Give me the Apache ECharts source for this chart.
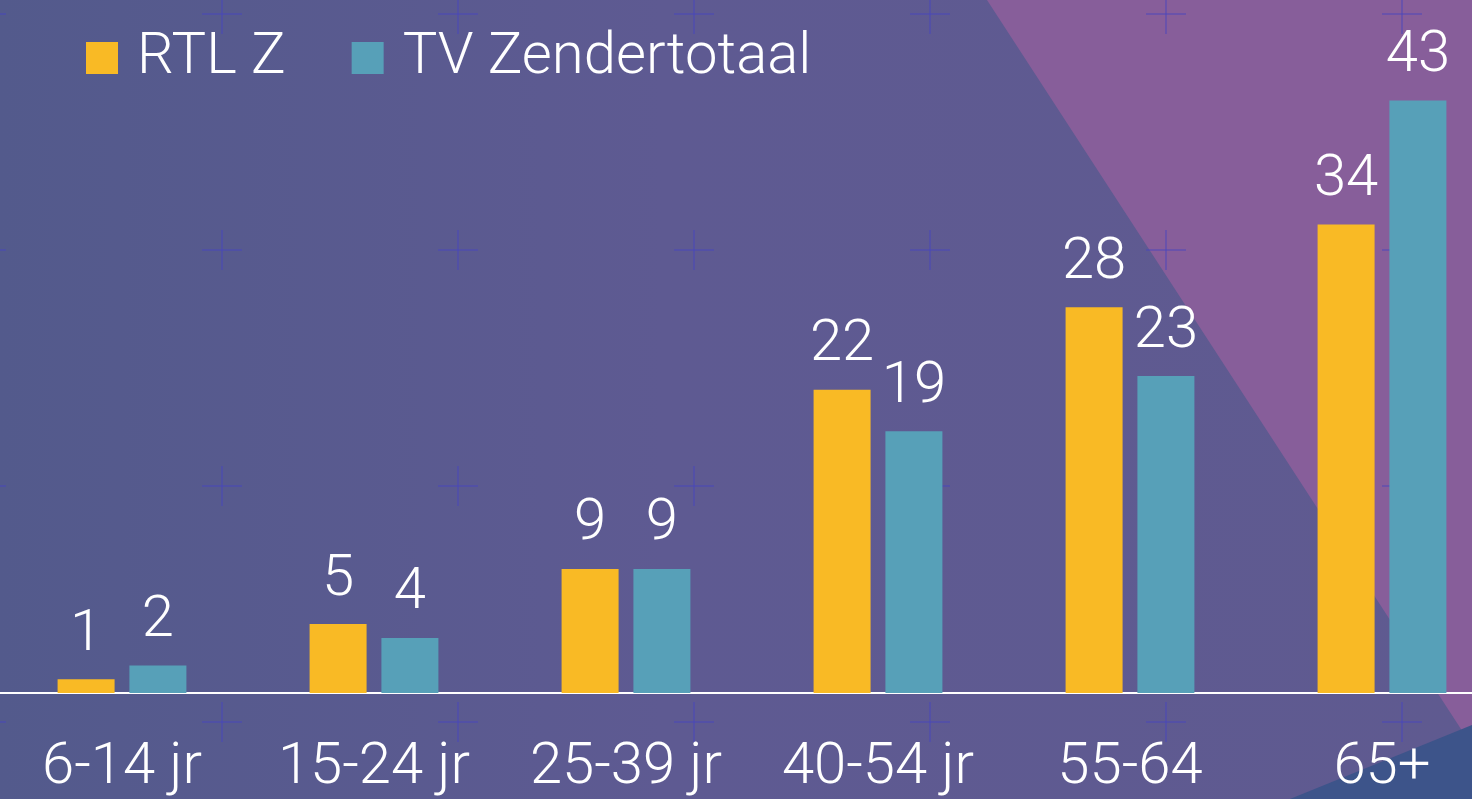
<!DOCTYPE html>
<html lang="nl">
<head>
    <meta charset="UTF-8">
    <title>RTL Z vs TV Zendertotaal</title>
    <script src="https://cdn.jsdelivr.net/npm/echarts@6/dist/echarts.min.js"></script>
    <style>
        html, body { margin: 0; padding: 0; }
        #chart { width: 1472px; height: 799px; }
    </style>
</head>
<body>
    <div id="chart"></div>
    <script>
        // data
        const categories = ['6-14 jr', '15-24 jr', '25-39 jr', '40-54 jr', '55-64', '65+'];
        const rtlZ = [1, 5, 9, 22, 28, 34];
        const tvTotaal = [2, 4, 9, 19, 23, 43];

        const chart = echarts.init(document.getElementById('chart'));
        const font = 'Roboto, "Open Sans", sans-serif';

        // decorative plus marks in the background
        const pluses = [];
        for (let i = -1; i <= 5; i++) {
            for (let j = 0; j <= 3; j++) {
                const cx = 222 + i * 236, cy = 14 + j * 236;
                pluses.push({
                    type: 'group', z: -5, silent: true,
                    children: [
                        { type: 'line', shape: { x1: cx - 20, y1: cy, x2: cx + 20, y2: cy },
                          style: { stroke: 'rgba(72,68,190,0.45)', lineWidth: 2 } },
                        { type: 'line', shape: { x1: cx, y1: cy - 20, x2: cx, y2: cy + 20 },
                          style: { stroke: 'rgba(72,68,190,0.45)', lineWidth: 2 } }
                    ]
                });
            }
        }

        const valueLabel = {
            show: true,
            position: 'top',
            distance: 15,
            color: '#fff',
            fontFamily: font,
            fontWeight: 300,
            fontSize: 58,
            lineHeight: 58
        };

        const option = {
            backgroundColor: {
                type: 'linear', x: 0, y: 0, x2: 1, y2: 0,
                colorStops: [
                    { offset: 0, color: '#535a8c' },
                    { offset: 0.45, color: '#5e5a92' },
                    { offset: 1, color: '#5f5a90' }
                ]
            },
            graphic: [
                { type: 'polygon', z: -10, silent: true,
                  shape: { points: [[987, 0], [1472, 0], [1472, 746]] },
                  style: { fill: '#875e9a' } },
                { type: 'polygon', z: -9, silent: true,
                  shape: { points: [[1290, 799], [1472, 725], [1472, 799]] },
                  style: { fill: '#3d548a' } }
            ].concat(pluses),
            legend: {
                left: 81,
                top: 24,
                itemWidth: 32,
                itemHeight: 32,
                itemGap: 66,
                icon: 'rect',
                textStyle: {
                    color: '#fff',
                    fontFamily: font,
                    fontWeight: 300,
                    fontSize: 58,
                    lineHeight: 58,
                    padding: [0, 0, 0, 14]
                },
                data: ['RTL Z', 'TV Zendertotaal']
            },
            grid: {
                left: -4,
                width: 1512,
                top: 4,
                bottom: 106,
                containLabel: false,
                outerBoundsMode: 'none'
            },
            xAxis: {
                type: 'category',
                data: categories,
                axisLine: { lineStyle: { color: '#fff', width: 2 } },
                axisTick: { show: false },
                axisLabel: {
                    interval: 0,
                    color: '#fff',
                    fontFamily: font,
                    fontWeight: 300,
                    fontSize: 58,
                    lineHeight: 58,
                    margin: 46
                }
            },
            yAxis: {
                type: 'value',
                min: 0,
                max: 50,
                show: false
            },
            series: [
                {
                    name: 'RTL Z',
                    type: 'bar',
                    data: rtlZ,
                    barWidth: 57,
                    barGap: '26%',
                    itemStyle: { color: '#f9ba25' },
                    label: valueLabel
                },
                {
                    name: 'TV Zendertotaal',
                    type: 'bar',
                    data: tvTotaal,
                    barWidth: 57,
                    itemStyle: { color: '#57a0b8' },
                    label: valueLabel
                }
            ]
        };

        chart.setOption(option);
    </script>
</body>
</html>
